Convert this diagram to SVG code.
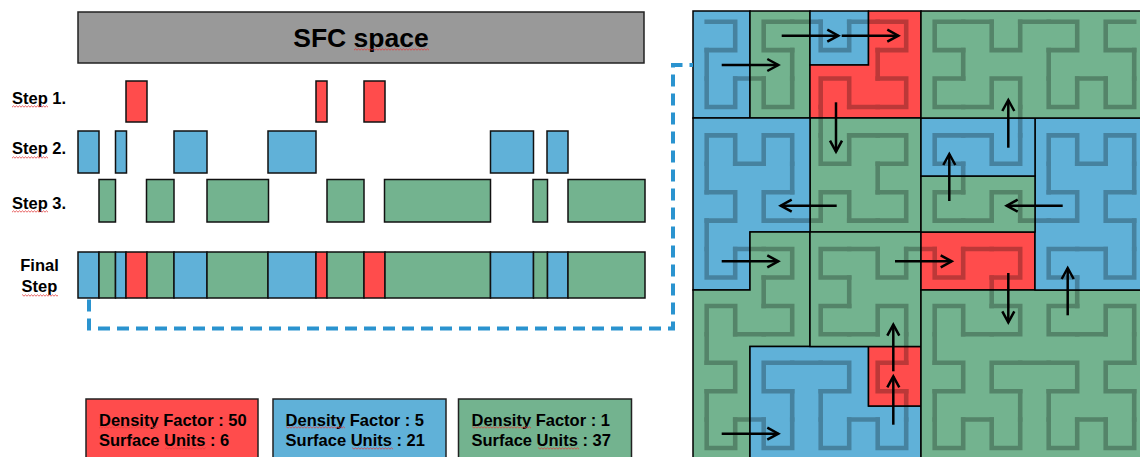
<svg xmlns="http://www.w3.org/2000/svg" width="1140" height="457" viewBox="0 0 1140 457">
<style>
 .lbl{font-family:"Liberation Sans",Arial,sans-serif;font-weight:bold;font-size:16.5px;fill:#000}
 .ttl{font-family:"Liberation Sans",Arial,sans-serif;font-weight:bold;font-size:26.5px;fill:#000}
 .r{fill:#FF4C4C} .b{fill:#60B1D8} .g{fill:#73B38F}
 .bar rect{stroke:#111;stroke-width:1.5}
 .reg polygon{stroke:#000;stroke-width:1.5;stroke-linejoin:miter}
 .arr{stroke:#000;stroke-width:2.5;fill:none;marker-end:url(#ah)}
 .hc{fill:none;stroke:#000;stroke-width:0.16;stroke-linecap:square;stroke-linejoin:miter}
 .sq{fill:url(#sq)}
</style>
<defs>
 <marker id="ah" markerUnits="userSpaceOnUse" markerWidth="16" markerHeight="16" viewBox="0 0 16 16" refX="13" refY="8" orient="auto" overflow="visible">
  <path d="M2,2 L13,8 L2,14" fill="none" stroke="#000" stroke-width="2.5"/>
 </marker>
 <pattern id="sq" width="3" height="3" patternUnits="userSpaceOnUse">
  <path d="M0,2.2 L1.5,0.8 L3,2.2" fill="none" stroke="#E23A3A" stroke-width="0.8"/>
 </pattern>
 <path id="h1" class="hc" d="M0.5,0.5V1.5H1.5V0.5"/>
 <g id="h2">
  <use href="#h1" transform="matrix(0 1 1 0 0 0)"/>
  <use href="#h1" transform="translate(0 2)"/>
  <use href="#h1" transform="translate(2 2)"/>
  <use href="#h1" transform="matrix(0 -1 -1 0 4 2)"/>
  <path class="hc" d="M0.5,1.5V2.5M1.5,2.5H2.5M3.5,2.5V1.5"/>
 </g>
 <g id="h3">
  <use href="#h2" transform="matrix(0 1 1 0 0 0)"/>
  <use href="#h2" transform="translate(0 4)"/>
  <use href="#h2" transform="translate(4 4)"/>
  <use href="#h2" transform="matrix(0 -1 -1 0 8 4)"/>
  <path class="hc" d="M0.5,3.5V4.5M3.5,4.5H4.5M7.5,4.5V3.5"/>
 </g>
 <g id="h4">
  <use href="#h3" transform="matrix(0 1 1 0 0 0)"/>
  <use href="#h3" transform="translate(0 8)"/>
  <use href="#h3" transform="translate(8 8)"/>
  <use href="#h3" transform="matrix(0 -1 -1 0 16 8)"/>
  <path class="hc" d="M0.5,7.5V8.5M7.5,8.5H8.5M15.5,8.5V7.5"/>
 </g>
</defs>
<rect width="1140" height="457" fill="#fff"/>

<g id="sfc-space">
 <rect x="78" y="12" width="566" height="51" fill="#999" stroke="#222" stroke-width="1.5"/>
 <text class="ttl" x="361" y="46.5" text-anchor="middle">SFC space</text>
 <rect class="sq" x="354" y="48" width="75" height="3"/>
</g>

<g id="labels">
 <text class="lbl" x="12" y="104">Step 1.</text>
 <text class="lbl" x="12" y="154">Step 2.</text>
 <text class="lbl" x="12" y="209">Step 3.</text>
 <text class="lbl" x="39.5" y="271" text-anchor="middle">Final</text>
 <text class="lbl" x="39.5" y="292" text-anchor="middle">Step</text>
 <rect class="sq" x="12" y="105" width="36" height="3"/>
 <rect class="sq" x="12" y="156" width="36" height="3"/>
 <rect class="sq" x="12" y="210" width="36" height="3"/>
 <rect class="sq" x="22" y="294" width="36" height="3"/>
</g>

<g id="step1" class="bar">
 <rect class="r" x="126" y="81" width="21" height="41"/>
 <rect class="r" x="316" y="81" width="11" height="41"/>
 <rect class="r" x="364" y="81" width="21" height="41"/>
</g>
<g id="step2" class="bar">
 <rect class="b" x="78" y="131" width="21" height="42"/>
 <rect class="b" x="115.5" y="131" width="11" height="42"/>
 <rect class="b" x="174" y="131" width="33" height="42"/>
 <rect class="b" x="268" y="131" width="48" height="42"/>
 <rect class="b" x="490.5" y="131" width="43" height="42"/>
 <rect class="b" x="547" y="131" width="21" height="42"/>
</g>
<g id="step3" class="bar">
 <rect class="g" x="99" y="179.5" width="16.5" height="42.5"/>
 <rect class="g" x="146.5" y="179.5" width="27.5" height="42.5"/>
 <rect class="g" x="207" y="179.5" width="61.5" height="42.5"/>
 <rect class="g" x="327" y="179.5" width="37" height="42.5"/>
 <rect class="g" x="384.5" y="179.5" width="106" height="42.5"/>
 <rect class="g" x="533" y="179.5" width="14.5" height="42.5"/>
 <rect class="g" x="568" y="179.5" width="77" height="42.5"/>
</g>
<g id="final-step" class="bar">
 <rect class="b" x="78" y="252" width="21" height="46"/>
 <rect class="g" x="99" y="252" width="16.5" height="46"/>
 <rect class="b" x="115.5" y="252" width="10.5" height="46"/>
 <rect class="r" x="126" y="252" width="21" height="46"/>
 <rect class="g" x="147" y="252" width="27" height="46"/>
 <rect class="b" x="174" y="252" width="33" height="46"/>
 <rect class="g" x="207" y="252" width="61" height="46"/>
 <rect class="b" x="268" y="252" width="48" height="46"/>
 <rect class="r" x="316" y="252" width="11" height="46"/>
 <rect class="g" x="327" y="252" width="37" height="46"/>
 <rect class="r" x="364" y="252" width="21" height="46"/>
 <rect class="g" x="385" y="252" width="105.5" height="46"/>
 <rect class="b" x="490.5" y="252" width="43" height="46"/>
 <rect class="g" x="533.5" y="252" width="14" height="46"/>
 <rect class="b" x="547.5" y="252" width="20.5" height="46"/>
 <rect class="g" x="568" y="252" width="77" height="46"/>
</g>

<g id="legend-red">
 <rect class="r" x="86" y="399" width="172" height="70" stroke="#222" stroke-width="1.5"/>
 <text class="lbl" x="99" y="425.5">Density Factor : 50</text>
 <text class="lbl" x="99" y="445.5">Surface Units : 6</text>
 <rect class="sq" x="99" y="426" width="59" height="3"/>
 <rect class="sq" x="165" y="447" width="41" height="3"/>
</g>
<g id="legend-blue">
 <rect class="b" x="273" y="399" width="173" height="70" stroke="#222" stroke-width="1.5"/>
 <text class="lbl" x="285.6" y="425.5">Density Factor : 5</text>
 <text class="lbl" x="285.6" y="445.5">Surface Units : 21</text>
 <rect class="sq" x="286" y="426" width="59" height="3"/>
 <rect class="sq" x="352" y="447" width="41" height="3"/>
</g>
<g id="legend-green">
 <rect class="g" x="458.5" y="399" width="173" height="70" stroke="#222" stroke-width="1.5"/>
 <text class="lbl" x="471.5" y="425.5">Density Factor : 1</text>
 <text class="lbl" x="471.5" y="445.5">Surface Units : 37</text>
 <rect class="sq" x="472" y="426" width="59" height="3"/>
 <rect class="sq" x="538" y="447" width="41" height="3"/>
</g>

<g id="regions" class="reg">
 <polygon id="s1" class="b" points="693,11 750,11 750,118 693,118"/>
 <polygon id="s2" class="g" points="750,11 810,11 810,118 750,118"/>
 <polygon id="s3" class="b" points="810,11 868.5,11 868.5,65 810,65"/>
 <polygon id="s4" class="r" points="868.5,11 921,11 921,118 810,118 810,65 868.5,65"/>
 <polygon id="s5" class="g" points="810,118 921,118 921,232 810,232"/>
 <polygon id="s6" class="b" points="693,118 810,118 810,232 750,232 750,290 693,290"/>
 <polygon id="s7" class="g" points="750,232 810,232 810,346.5 750,346.5 750,470 693,470 693,290 750,290"/>
 <polygon id="s8" class="b" points="750,346.5 868.5,346.5 868.5,406 921,406 921,470 750,470"/>
 <polygon id="s9" class="r" points="868.5,346.5 921,346.5 921,406 868.5,406"/>
 <polygon id="s10" class="g" points="810,232 921,232 921,346.5 810,346.5"/>
 <polygon id="s11" class="r" points="921,232 1035,232 1035,290 921,290"/>
 <polygon id="s12" class="g" points="921,290 1149,290 1149,470 921,470"/>
 <polygon id="s13" class="b" points="1035,118 1149,118 1149,290 1035,290"/>
 <polygon id="s14" class="g" points="921,176 1035,176 1035,232 921,232"/>
 <polygon id="s15" class="b" points="921,118 1035,118 1035,176 921,176"/>
 <polygon id="s16" class="g" points="921,11 1149,11 1149,118 921,118"/>
</g>

<g id="hilbert-curve" opacity="0.26" transform="matrix(28.5 0 0 28.42 692.45 7.49)">
 <use href="#h4"/>
</g>

<g id="connectors">
 <path d="M89,299.5 V328.5 H673 V65 H693" fill="none" stroke="#2A93CF" stroke-width="4" stroke-dasharray="12 7"/>
 <path class="arr" d="M721.7,65 H778.3"/>
 <path class="arr" d="M781.7,35.7 H838.3"/>
 <path class="arr" d="M841.7,35.7 H898.3"/>
 <path class="arr" d="M836,102.3 V151.7"/>
 <path class="arr" d="M836.7,205.7 H780.7"/>
 <path class="arr" d="M721.7,261.3 H778.3"/>
 <path class="arr" d="M721.7,433.7 H778.3"/>
 <path class="arr" d="M893.3,424.7 V376.3"/>
 <path class="arr" d="M893.3,371.3 V324.7"/>
 <path class="arr" d="M895,261.3 H951.7"/>
 <path class="arr" d="M1008.3,273 V322.3"/>
 <path class="arr" d="M1067.7,315.3 V268"/>
 <path class="arr" d="M1062.7,205.7 H1006.7"/>
 <path class="arr" d="M949.3,201 V154"/>
 <path class="arr" d="M1008.3,147.7 V100"/>
</g>
</svg>
